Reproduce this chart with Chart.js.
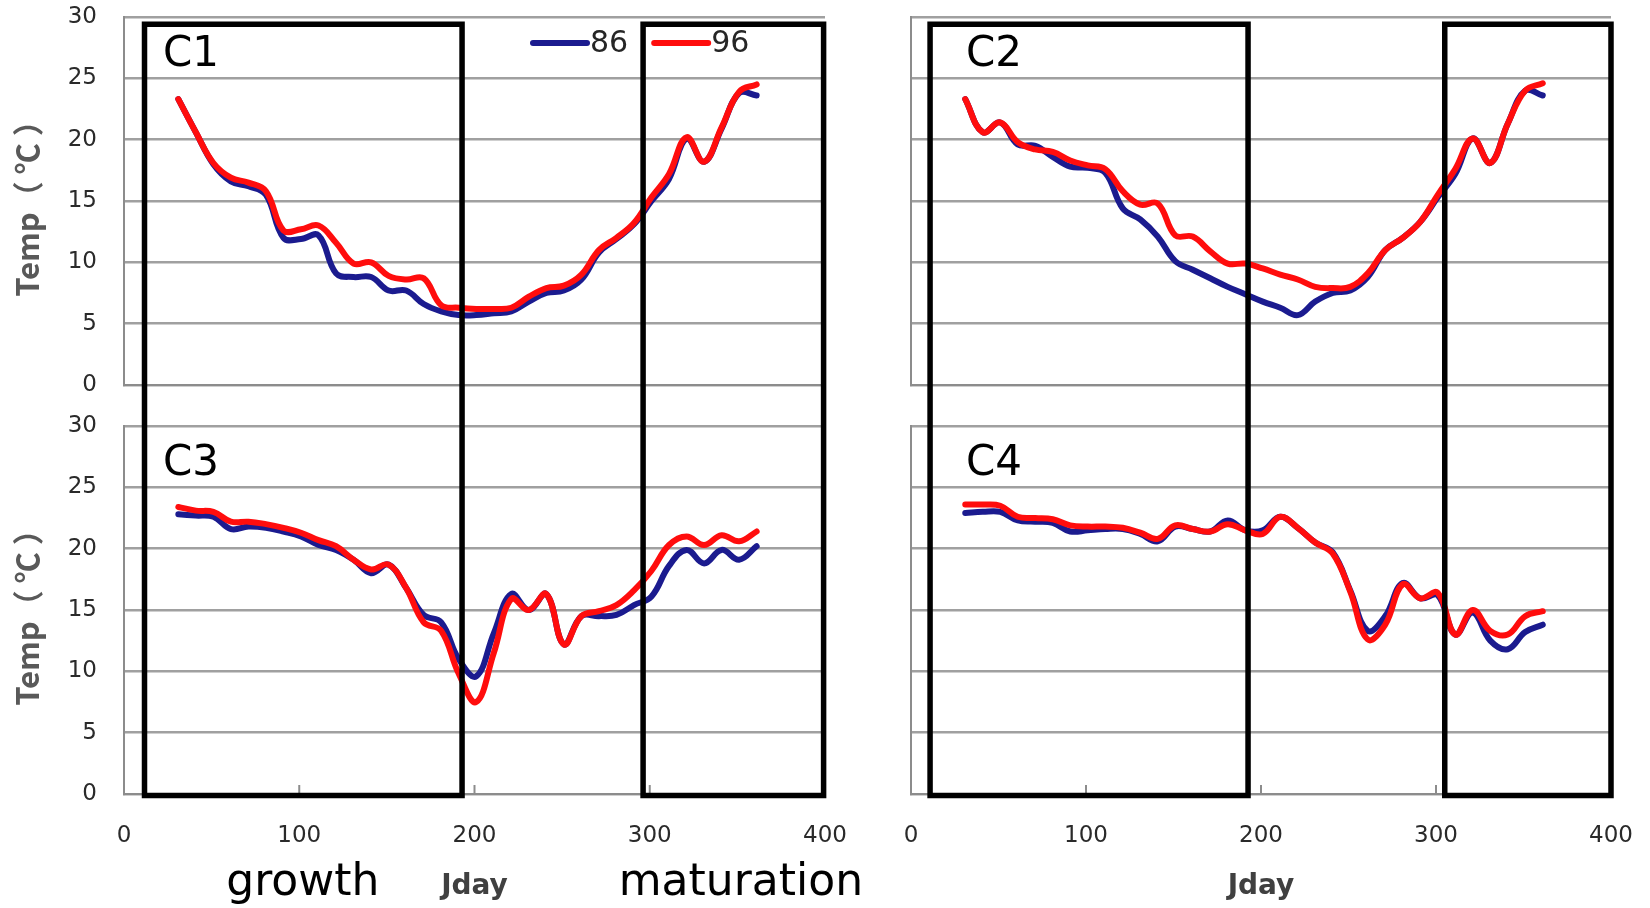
<!DOCTYPE html>
<html>
<head>
<meta charset="utf-8">
<script src="https://cdn.jsdelivr.net/npm/chart.js@4.4.1/dist/chart.umd.min.js"></script>
<style>
html, body { margin: 0; padding: 0; background: #ffffff; }
#wrap { position: relative; width: 1650px; height: 908px; overflow: hidden; background: #ffffff; }
#wrap canvas { position: absolute; }
</style>
</head>
<body>
<div id="wrap">
  <canvas id="cv1" width="840" height="405" style="left:0px;top:0px;width:840px;height:405px"></canvas>
  <canvas id="cv3" width="880" height="503" style="left:0px;top:405px;width:880px;height:503px"></canvas>
  <canvas id="cv2" width="820" height="405" style="left:830px;top:0px;width:820px;height:405px"></canvas>
  <canvas id="cv4" width="820" height="503" style="left:830px;top:405px;width:820px;height:503px"></canvas>
</div>
<script>
// ---------------- data ----------------
const jday = [31, 41, 51, 61, 71, 81, 91, 101, 111, 121, 131, 141, 151, 161, 171, 181, 191,
              201, 211, 221, 231, 241, 251, 261, 271, 281, 291, 301, 311, 321, 331, 341, 351, 361];

const seriesNames = ['86', '96'];
const panelNames = ['C1', 'C2', 'C3', 'C4'];
const phaseNames = ['growth', 'maturation'];
const xTitle = 'Jday';
const yTitle = 'Temp（ ℃ ）';

const c1_86 = [23.3, 20.6, 18.0, 16.6, 16.2, 15.5, 12.0, 11.9, 12.2, 9.1, 8.8, 8.8, 7.7, 7.7, 6.6, 6.0, 5.7,
               5.7, 5.85, 6.0, 6.8, 7.5, 7.7, 8.6, 10.8, 11.9, 13.1, 15.0, 16.8, 20.1, 18.2, 20.9, 23.8, 23.6];
const c1_96 = [23.3, 20.6, 18.1, 16.9, 16.5, 15.8, 12.6, 12.7, 13.0, 11.6, 9.9, 10.0, 8.9, 8.6, 8.7, 6.5, 6.3,
               6.2, 6.2, 6.3, 7.2, 7.9, 8.1, 9.0, 11.0, 12.0, 13.2, 15.3, 17.2, 20.2, 18.2, 21.0, 23.9, 24.5];

const c2_86 = [23.3, 20.6, 21.4, 19.6, 19.5, 18.6, 17.8, 17.7, 17.3, 14.4, 13.5, 12.1, 10.1, 9.4, 8.7, 8.0, 7.4,
               6.8, 6.3, 5.7, 6.8, 7.5, 7.7, 8.8, 11.0, 12.0, 13.3, 15.3, 17.2, 20.1, 18.1, 21.3, 24.0, 23.6];
const c2_96 = [23.3, 20.6, 21.4, 19.8, 19.2, 19.0, 18.3, 17.9, 17.6, 15.8, 14.7, 14.8, 12.2, 12.1, 10.9, 9.9, 9.9,
               9.5, 9.0, 8.6, 8.0, 7.9, 8.0, 9.1, 11.0, 12.0, 13.3, 15.5, 17.6, 20.1, 18.1, 21.3, 24.0, 24.6];

const c3_86 = [22.8, 22.7, 22.6, 21.6, 21.8, 21.7, 21.4, 21.0, 20.3, 19.9, 19.1, 18.0, 18.7, 16.8, 14.6, 14.0, 11.0,
               9.6, 13.1, 16.3, 15.0, 16.3, 12.2, 14.5, 14.5, 14.6, 15.4, 16.1, 18.6, 19.9, 18.8, 19.9, 19.1, 20.2];
const c3_96 = [23.4, 23.1, 23.0, 22.2, 22.2, 22.0, 21.7, 21.3, 20.7, 20.2, 19.1, 18.3, 18.7, 16.8, 14.0, 13.3, 9.8,
               7.5, 11.5, 15.9, 15.0, 16.3, 12.2, 14.5, 14.9, 15.4, 16.6, 18.2, 20.3, 21.0, 20.3, 21.1, 20.6, 21.4];

const c4_86 = [22.9, 23.0, 23.0, 22.3, 22.2, 22.1, 21.4, 21.5, 21.6, 21.6, 21.2, 20.6, 21.8, 21.6, 21.4, 22.3, 21.5,
               21.5, 22.6, 21.7, 20.5, 19.7, 16.6, 13.3, 14.5, 17.2, 15.95, 16.2, 13.0, 14.8, 12.5, 11.8, 13.2, 13.8];
const c4_96 = [23.6, 23.6, 23.5, 22.6, 22.5, 22.4, 21.9, 21.8, 21.8, 21.7, 21.3, 20.8, 21.9, 21.6, 21.4, 22.0, 21.5,
               21.2, 22.6, 21.7, 20.5, 19.6, 16.5, 12.6, 13.8, 17.1, 15.95, 16.4, 13.0, 15.0, 13.3, 13.0, 14.5, 14.9];

// phase windows (Jday) for the black frames
const leftPhases = [[11.7, 192.9], [296.2, 399.2]];
const rightPhases = [[10.9, 192.6], [305.0, 400.0]];
const phaseLabelDays = [102, 352];

// ---------------- styles ----------------
const BLUE = '#1b1b8f';
const RED = '#ff0d0d';
const TICK_FONT = { family: "'DejaVu Sans', sans-serif", size: 23 };
const TICK_COLOR = '#2a2a2a';
const GRID_COLOR = '#a0a0a0';
const AXIS_COLOR = '#8c8c8c';
const NONE = 'rgba(0,0,0,0)';

function pts(arr) { return jday.map((d, i) => ({ x: d, y: arr[i] })); }

const overlay = {
  id: 'overlay',
  afterDatasetsDraw(chart, args, o) {
    const ctx = chart.ctx, xs = chart.scales.x, ys = chart.scales.y, ca = chart.chartArea;
    ctx.save();
    // inward tick marks
    if (o.inTicks) {
      ctx.strokeStyle = AXIS_COLOR; ctx.lineWidth = 2;
      xs.ticks.forEach(t => {
        const px = xs.getPixelForValue(t.value);
        ctx.beginPath(); ctx.moveTo(px, ca.bottom); ctx.lineTo(px, ca.bottom - 9); ctx.stroke();
      });
    }
    // black phase frames
    ctx.strokeStyle = '#000000'; ctx.lineWidth = 5.5; ctx.lineJoin = 'miter'; ctx.lineCap = 'butt';
    o.boxes.forEach(b => {
      const x1 = xs.getPixelForValue(b[0]), x2 = xs.getPixelForValue(b[1]);
      ctx.beginPath();
      if (o.part === 'top') {
        const yt = ys.getPixelForValue(29.4);
        ctx.moveTo(x1, chart.height); ctx.lineTo(x1, yt); ctx.lineTo(x2, yt); ctx.lineTo(x2, chart.height);
      } else {
        const yb = ys.getPixelForValue(-0.12);
        ctx.moveTo(x1, 0); ctx.lineTo(x1, yb); ctx.lineTo(x2, yb); ctx.lineTo(x2, 0);
      }
      ctx.stroke();
    });
    // panel label
    ctx.fillStyle = '#000000';
    ctx.font = "42px 'DejaVu Sans', sans-serif";
    ctx.textAlign = 'left'; ctx.textBaseline = 'alphabetic';
    ctx.fillText(o.label, ca.left + o.labelDx, ca.top + 49);
    // phase labels
    if (o.phaseLabels) {
      ctx.font = "44px 'DejaVu Sans', sans-serif";
      ctx.textAlign = 'center';
      phaseNames.forEach((n, i) => {
        ctx.fillText(n, xs.getPixelForValue(phaseLabelDays[i]), chart.height - 13);
      });
    }
    // legend
    if (o.legend) {
      let x = ca.left + 407;
      const y = ca.top + 26;
      ctx.font = "30px 'DejaVu Sans', sans-serif";
      ctx.textAlign = 'left'; ctx.textBaseline = 'middle';
      chart.data.datasets.forEach(ds => {
        ctx.strokeStyle = ds.borderColor; ctx.lineWidth = 6; ctx.lineCap = 'round';
        ctx.beginPath(); ctx.moveTo(x + 2, y); ctx.lineTo(x + 56, y); ctx.stroke();
        ctx.fillStyle = '#262626';
        ctx.fillText(ds.label, x + 59, y + 1);
        x += 59 + ctx.measureText(ds.label).width + 24;
      });
    }
    ctx.restore();
  }
};

function makeChart(id, s86, s96, opt) {
  const ctx = document.getElementById(id);
  return new Chart(ctx, {
    type: 'line',
    data: {
      datasets: [
        { label: seriesNames[0], data: pts(s86), borderColor: BLUE, backgroundColor: BLUE,
          borderWidth: 6, pointRadius: 0, tension: 0.4, order: 1, borderCapStyle: 'round', borderJoinStyle: 'round' },
        { label: seriesNames[1], data: pts(s96), borderColor: RED, backgroundColor: RED,
          borderWidth: 6, pointRadius: 0, tension: 0.4, order: 0, borderCapStyle: 'round', borderJoinStyle: 'round' }
      ]
    },
    options: {
      responsive: false,
      animation: false,
      devicePixelRatio: 1,
      layout: { padding: { top: opt.padTop, right: opt.padRight, left: 0, bottom: 0 } },
      plugins: {
        legend: { display: false },
        tooltip: { enabled: false },
        overlay: opt.overlay
      },
      scales: {
        x: {
          type: 'linear', min: 0, max: 400,
          ticks: { stepSize: 100, display: opt.xLabels, padding: 0, font: TICK_FONT, color: TICK_COLOR, maxRotation: 0 },
          grid: { display: true, color: NONE, drawTicks: true, tickLength: 28, tickColor: NONE },
          border: { display: true, color: AXIS_COLOR, width: 2 },
          title: { display: opt.xLabels, text: xTitle, color: '#404040',
                   font: { family: "'DejaVu Sans', sans-serif", size: 28, weight: 'bold' },
                   padding: { top: 0, bottom: 4 } },
          afterFit: (sc) => { sc.height = opt.xHeight; }
        },
        y: {
          type: 'linear', min: 0, max: 30,
          ticks: { stepSize: 5, display: opt.yLabels, padding: 0, font: TICK_FONT, color: TICK_COLOR },
          grid: { color: GRID_COLOR, lineWidth: 2.5, drawTicks: true, tickLength: 27, tickColor: NONE },
          border: { display: true, color: AXIS_COLOR, width: 2 },
          title: { display: opt.yLabels, text: yTitle, color: '#595959',
                   font: { family: "'Noto Sans CJK SC', 'DejaVu Sans', sans-serif", size: 31, weight: 'bold' },
                   padding: { top: 9, bottom: 0 } },
          afterFit: (sc) => { sc.width = opt.yWidth; }
        }
      }
    },
    plugins: [overlay]
  });
}

makeChart('cv1', c1_86, c1_96, {
  padTop: 17, padRight: 15, xHeight: 20, yWidth: 124, xLabels: false, yLabels: true,
  overlay: { part: 'top', boxes: leftPhases, label: panelNames[0], labelDx: 39, legend: true }
});
makeChart('cv3', c3_86, c3_96, {
  padTop: 21, padRight: 55, xHeight: 114, yWidth: 124, xLabels: true, yLabels: true,
  overlay: { part: 'bottom', boxes: leftPhases, label: panelNames[2], labelDx: 39, inTicks: true, phaseLabels: true }
});
makeChart('cv2', c2_86, c2_96, {
  padTop: 17, padRight: 39, xHeight: 20, yWidth: 81, xLabels: false, yLabels: false,
  overlay: { part: 'top', boxes: rightPhases, label: panelNames[1], labelDx: 55 }
});
makeChart('cv4', c4_86, c4_96, {
  padTop: 21, padRight: 39, xHeight: 114, yWidth: 81, xLabels: true, yLabels: false,
  overlay: { part: 'bottom', boxes: rightPhases, label: panelNames[3], labelDx: 55, inTicks: true }
});
</script>
</body>
</html>
